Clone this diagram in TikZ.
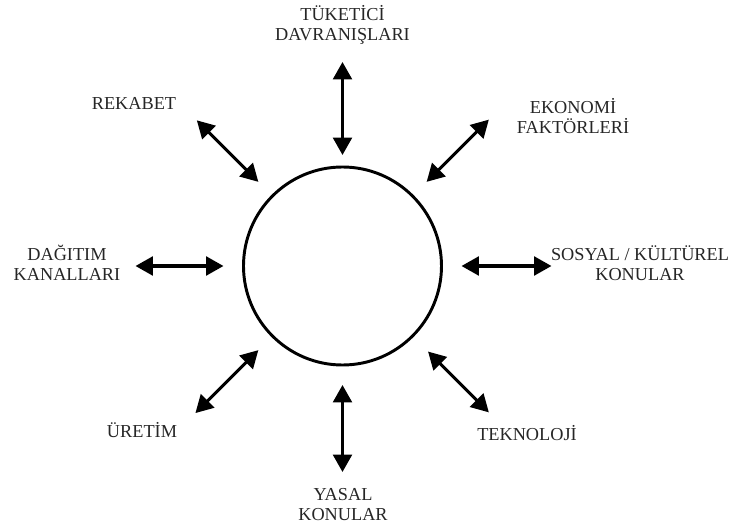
\documentclass[tikz,border=0pt]{standalone}
\usepackage{fontspec}
\setmainfont{Liberation Serif}
\usetikzlibrary{arrows.meta, calc}
\tikzset{
  market circle/.style = {draw, circle, line width=2.2pt, inner sep=0pt,
                          minimum size=148.5pt},
  twoway/.style        = {{Triangle[length=13pt,width=14pt]}-{Triangle[length=13pt,width=14pt]},
                          line width=2.3pt},
  factor/.style        = {text=black!85, font=\fontsize{13.7}{15}\selectfont,
                          align=center, inner sep=0pt},
}

\begin{document}
\begin{tikzpicture}[x=0.75pt, y=0.75pt]

  \useasboundingbox (-342.5,-266) rectangle (390.5,266);

  % central circle
  \node[market circle] (market) at (0,0) {};

  % ── environment factors ───────────────────────────────────────────────
  \node[factor] (tuketici)  at (0,241)       {TÜKETİCİ\\DAVRANIŞLARI};
  \node[factor] (ekonomi)   at (230.5,150)   {EKONOMİ\\FAKTÖRLERİ};
  \node[factor] (sosyal)    at (297.5,3)     {SOSYAL / KÜLTÜREL\\KONULAR};
  \node[factor] (teknoloji) at (184.5,-167)  {TEKNOLOJİ};
  \node[factor] (yasal)     at (0.5,-239)    {YASAL\\KONULAR};
  \node[factor] (uretim)    at (-200.5,-164) {ÜRETİM};
  \node[factor] (dagitim)   at (-275.5,3)    {DAĞITIM\\KANALLARI};
  \node[factor] (rekabet)   at (-208.5,163)  {REKABET};

  % ── two-way arrows round the circle ───────────────────────────────────
  \foreach \a/\ri/\ro in {90/111/204, 45/119/207, 0/119/209, -45/121/207,
                          -90/119/206, -135/119/208, 180/119/207, 135/119/206}{
    \draw[twoway] ($(market.center)+(\a:\ri)$) -- ($(market.center)+(\a:\ro)$);
  }

\end{tikzpicture}
\end{document}
